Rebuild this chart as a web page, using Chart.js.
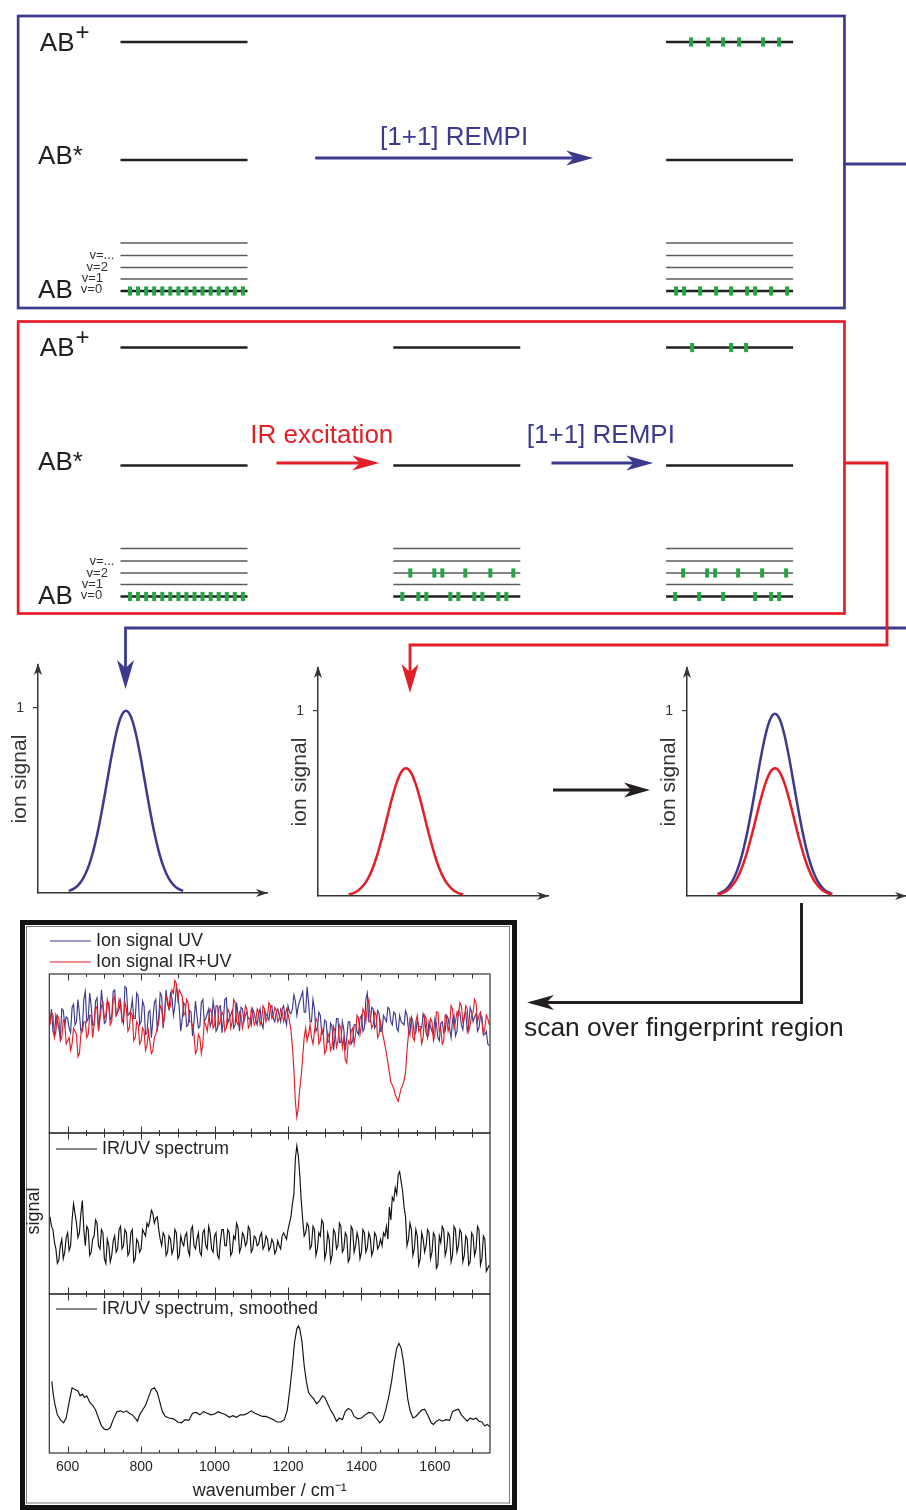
<!DOCTYPE html>
<html><head><meta charset="utf-8">
<script src="https://cdn.jsdelivr.net/npm/chart.js@4.4.1/dist/chart.umd.min.js"></script>
<style>
html,body{margin:0;padding:0;background:#fff}
body{width:906px;height:1510px;overflow:hidden;position:relative}
canvas{position:absolute;left:0;top:0}
</style></head>
<body>
<canvas id="diagram" width="906" height="1510"></canvas>
<canvas id="g1" width="906" height="1510"></canvas>
<canvas id="g2" width="906" height="1510"></canvas>
<canvas id="g3" width="906" height="1510"></canvas>
<canvas id="s1" width="906" height="1510"></canvas>
<canvas id="s2" width="906" height="1510"></canvas>
<canvas id="s3" width="906" height="1510"></canvas>
<script>
// ---------------- DATA ----------------
// energy levels (arb. units, v=0 ... v=4, AB*, AB+)
const levelNames = ['v=0','v=1','v=2','v=...','v4','AB*','AB+'];
const levelEnergy = [0, 12, 23.5, 35.5, 48, 131, 249];
// columns of the scheme (0: start, 1: after IR, 2: after UV)
const uvColumns = [0, 2];
const irUvColumns = [0, 1, 2];
// populations: positions of molecules along a level (0 = left end, 1 = right end)
const popGround = [0.075,0.138,0.202,0.265,0.329,0.392,0.456,0.519,0.583,0.646,0.710,0.773,0.837,0.900,0.964];
const popUvIon = [0.197,0.331,0.449,0.575,0.764,0.890];
const popUvGround = [0.079,0.142,0.268,0.394,0.512,0.638,0.701,0.827,0.953];
const popIrV2 = [0.134,0.323,0.386,0.567,0.764,0.945];
const popIrGround = [0.071,0.197,0.260,0.449,0.512,0.638,0.701,0.827,0.890];
const popIrUvV2 = [0.134,0.323,0.386,0.567,0.756,0.945];
const popIrUvGround = [0.071,0.260,0.449,0.701,0.827,0.890];
const popIrUvIon = [0.205,0.512,0.630];

// ion signal vs. UV wavelength (scan position)
const scanPos = [1.61,1.86,2.11,2.36,2.61,2.86,3.11,3.36,3.61,3.86,4.11,4.36,4.61,4.86,5.11,5.36,5.61,5.86,6.11,6.36,6.61,6.86,7.11,7.36,7.61];
const ionUV = [0.011,0.022,0.043,0.078,0.133,0.213,0.320,0.451,0.597,0.743,0.869,0.955,0.985,0.955,0.869,0.743,0.597,0.451,0.320,0.213,0.133,0.078,0.043,0.022,0.011];
const ionIRUV = [0.008,0.016,0.030,0.055,0.093,0.149,0.224,0.316,0.418,0.521,0.609,0.669,0.690,0.669,0.609,0.521,0.418,0.316,0.224,0.149,0.093,0.055,0.030,0.016,0.008];

// spectra: wavenumber grid start / step (cm-1); 150 samples on the grid + 150 at half steps
const wnStart = 552, wnStep = 8;
const tickLabels = [600, 800, 1000, 1200, 1400, 1600];
const ionSignalUV = [
70,64,74,66,78,68,72,63,81,70,
75,66,89,72,80,68,85,74,79,70,
82,73,90,76,83,69,91,75,84,72,
86,70,80,63,77,71,84,73,86,76,
81,88,74,92,78,72,80,68,76,70,
74,67,84,72,78,70,76,66,80,71,
85,72,77,68,74,79,70,76,72,78,
71,75,69,77,73,79,72,76,74,78,
72,80,75,87,74,83,89,76,82,70,
78,66,74,63,70,58,67,61,72,57,
65,60,70,58,68,62,74,66,88,70,
78,68,75,64,72,79,70,76,66,74,
69,77,65,73,62,71,67,75,63,70,
64,72,60,69,63,74,66,71,61,77,
68,74,64,79,70,75,66,73,62,56];
const ionSignalUVHalf = [
78,61,70,60,77,73,66,79,68,84,
64,84,70,88,68,83,65,90,69,82,
71,89,74,78,72,92,74,77,72,88,
68,83,62,76,60,82,64,88,66,90,
78,85,80,88,64,82,67,77,61,83,
66,82,70,75,67,83,64,79,63,84,
69,74,66,82,64,78,74,72,68,75,
68,78,66,75,71,80,70,78,70,80,
68,76,78,83,80,86,76,92,70,84,
64,76,62,71,57,69,52,72,57,70,
52,70,56,68,64,72,64,84,70,79,
66,77,64,74,70,78,68,75,64,70,
68,74,62,70,63,67,66,72,60,67,
62,69,58,70,64,72,60,74,64,76,
65,76,68,76,73,64,74,62,64,55];
const ionSignalIRUV = [
68,74,64,72,60,70,58,52,66,62,
50,64,70,62,74,68,78,72,82,74,
80,70,86,76,81,72,78,66,74,60,
68,58,64,55,57,52,62,70,78,74,
84,80,88,94,90,86,76,82,70,62,
52,60,56,68,72,76,68,80,70,74,
66,76,70,82,68,74,72,78,68,75,
70,76,71,78,73,80,74,77,72,76,
74,75,65,40,10,28,48,66,62,60,
64,70,58,62,52,60,55,64,58,66,
60,44,56,66,62,72,68,76,80,72,
68,74,62,64,55,44,32,28,22,24,
30,38,62,70,58,74,66,60,72,64,
70,62,76,66,58,72,68,78,70,74,
80,72,78,68,76,82,74,70,66,72];
const ionSignalIRUVHalf = [
76,60,74,58,71,56,60,56,64,48,
62,70,60,74,60,80,64,80,72,84,
68,84,74,84,70,82,64,76,58,70,
56,66,52,64,50,60,66,80,68,86,
78,90,96,84,88,74,84,70,68,50,
62,50,70,64,78,66,80,68,76,64,
78,66,84,70,76,66,80,66,78,68,
78,68,80,70,82,72,79,70,78,70,
78,70,54,20,16,36,60,58,68,56,
72,56,66,50,63,52,67,54,68,54,
46,58,64,56,74,62,78,70,84,66,
76,60,70,60,50,38,30,24,20,28,
33,52,72,60,70,64,56,74,60,72,
58,76,64,56,74,64,80,66,76,82,
70,80,64,74,84,70,76,62,74,68];
const irUvSpectrum = [
48,40,28,21,34,26,38,30,56,44,
38,58,30,40,26,36,44,28,38,19,
30,24,36,28,42,30,38,26,40,22,
32,28,38,44,46,50,47,40,30,36,
26,34,28,38,24,32,36,27,40,30,
34,26,38,30,42,28,36,24,33,40,
30,38,26,34,41,29,36,32,40,28,
35,31,38,30,34,29,32,27,30,36,
36,40,48,62,92,74,46,38,42,30,
40,28,36,44,26,34,24,38,30,42,
28,36,22,40,30,34,26,38,29,35,
27,36,30,30,36,34,46,58,62,76,
64,48,34,40,28,36,22,34,30,38,
26,36,18,32,40,28,36,24,40,30,
38,24,34,20,36,28,40,22,34,16];
const irUvSpectrumHalf = [
42,32,19,30,22,35,27,46,50,35,
50,40,42,24,34,46,30,40,22,34,
20,33,26,40,28,40,24,38,20,34,
26,40,36,42,52,44,48,34,38,24,
36,25,40,22,36,30,38,24,42,28,
38,24,40,28,38,26,38,22,40,30,
40,24,36,44,26,38,30,42,26,36,
30,36,28,36,27,34,25,33,28,38,
34,44,56,84,86,58,36,44,28,42,
24,38,46,22,38,20,40,28,44,26,
38,20,42,26,38,22,40,26,38,24,
38,28,34,38,42,54,60,66,74,70,
54,30,44,24,40,18,38,26,40,22,
38,16,36,42,24,38,20,42,26,40,
20,36,18,38,24,42,18,36,14,18];
const smoothWn = [557,560,565,572,580,589,596,604,612,620,628,634,640,646,652,660,668,676,684,692,700,708,716,724,734,744,752,760,768,776,784,790,796,804,812,820,828,836,844,850,858,866,876,888,900,910,920,930,940,950,960,970,980,990,1000,1010,1020,1030,1040,1050,1060,1070,1080,1090,1100,1110,1120,1130,1140,1150,1160,1170,1180,1190,1198,1205,1212,1218,1224,1228,1232,1238,1244,1250,1256,1262,1270,1278,1286,1294,1300,1308,1316,1324,1332,1340,1348,1356,1364,1372,1380,1390,1400,1410,1420,1430,1440,1450,1458,1466,1474,1482,1490,1496,1502,1508,1514,1520,1526,1532,1540,1548,1556,1564,1572,1580,1590,1596,1604,1612,1620,1630,1640,1648,1656,1664,1672,1680,1688,1696,1704,1712,1720,1728,1736,1742,1750];
const smoothSig = [45,38,31,24,21,19,22,32,41,40,39,36,37,35,36,32,30,27,22,17,15,14.5,16,21,26,26.5,25.5,26.5,25,24,22,20,24,27,30,35,40,41,38,33,26,23,22,21.5,19.5,19,21,20.5,25,25.5,24,26,25,24,24.5,26,25,24,22.5,23.5,22.5,24,24,25,26.5,25,24,23,23,22,21,19.5,19.5,21,27,40,55,70,78,80,78,70,55,45,38,36,34,31,33,36,35,31,27,24,20,22,21,26,28,27,23,21.5,22,24,25.5,25,22,19,21,27,35,45,58,66,69,66,58,46,34,27,22,23,25,27,27.5,24,19,18,20,21,20,21,20.5,26,27,27.5,24,22,20,22,21,22,20,19.5,17,18,16.5];

// ---------------- STYLE / LAYOUT ----------------
const BLUE = '#3C3A8F', RED = '#E41E26', INK = '#231F20', GREEN = '#27A446', GREY = '#5A5B5D';
const FONT = "'Liberation Sans', Arial, Helvetica, sans-serif";
Chart.defaults.font.family = FONT;
Chart.defaults.animation = false;
const W = 906, H = 1510, PAD = 12;
const colPx = 272.8, col0Px = 184;          // column spacing of the scheme
const halfLevel = 0.2328;                    // half length of a level in column units
const boxX = [-0.608, 2.421], boxE = [-17, 275];
const v0TopPx = 291, v0BotPx = 596.5;

function head(ctx, tx, ty, ang, len, hw, color) {
  const c = Math.cos(ang), s = Math.sin(ang);
  const bx = tx - c * len, by = ty - s * len;
  const nx = tx - c * len * 0.72, ny = ty - s * len * 0.72;
  ctx.beginPath(); ctx.moveTo(tx, ty);
  ctx.lineTo(bx - s * hw, by + c * hw); ctx.lineTo(nx, ny);
  ctx.lineTo(bx + s * hw, by - c * hw); ctx.closePath();
  ctx.fillStyle = color; ctx.fill();
}
function arrow(ctx, pts, color, w, len, hw) {
  const n = pts.length, [tx, ty] = pts[n - 1], [px, py] = pts[n - 2];
  const ang = Math.atan2(ty - py, tx - px);
  ctx.beginPath(); ctx.moveTo(pts[0][0], pts[0][1]);
  for (let i = 1; i < n - 1; i++) ctx.lineTo(pts[i][0], pts[i][1]);
  ctx.lineTo(tx - Math.cos(ang) * len * 0.6, ty - Math.sin(ang) * len * 0.6);
  ctx.strokeStyle = color; ctx.lineWidth = w; ctx.lineJoin = 'miter'; ctx.lineCap = 'butt'; ctx.stroke();
  head(ctx, tx, ty, ang, len, hw, color);
}
function line(ctx, pts, color, w) {
  ctx.beginPath(); ctx.moveTo(pts[0][0], pts[0][1]);
  for (let i = 1; i < pts.length; i++) ctx.lineTo(pts[i][0], pts[i][1]);
  ctx.strokeStyle = color; ctx.lineWidth = w; ctx.lineJoin = 'miter'; ctx.stroke();
}
function text(ctx, s, x, y, size, color, align, base) {
  ctx.font = size + 'px ' + FONT; ctx.fillStyle = color;
  ctx.textAlign = align || 'left'; ctx.textBaseline = base || 'alphabetic';
  ctx.fillText(s, x, y);
}

// ---------------- ENERGY LEVEL SCHEME ----------------
function levelSegments(cols, idxs) {
  const pts = [];
  cols.forEach(c => idxs.forEach(i => {
    pts.push({x: c - halfLevel, y: levelEnergy[i]}, {x: c + halfLevel, y: levelEnergy[i]}, {x: c + 0.3, y: null});
  }));
  return pts;
}
function pop(col, fr, lvl) {
  return fr.map(f => ({x: col - halfLevel + f * 2 * halfLevel, y: levelEnergy[lvl]}));
}
const thick = [0, 5, 6], thin = [1, 2, 3, 4];
const levelDs = (axis, cols) => [
  {data: levelSegments(cols, thin), yAxisID: axis, showLine: true, borderColor: GREY, borderWidth: 1.3, pointRadius: 0, spanGaps: false, order: 3},
  {data: levelSegments(cols, thick), yAxisID: axis, showLine: true, borderColor: INK, borderWidth: 2.7, pointRadius: 0, spanGaps: false, order: 2}
];
const popDs = (axis, pts) => ({data: pts, yAxisID: axis, showLine: false, pointStyle: 'line', pointRotation: 90, pointRadius: 4.6,
  pointBorderWidth: 4, pointBorderColor: GREEN, pointBackgroundColor: GREEN, order: 1});

const schemePlugin = {
  id: 'scheme',
  afterDraw(chart) {
    const ctx = chart.ctx, xs = chart.scales.x;
    const X = v => xs.getPixelForValue(v);
    ctx.save();
    [['yTop', BLUE], ['yBot', RED]].forEach(([id, col]) => {
      const ys = chart.scales[id], Y = v => ys.getPixelForValue(v);
      ctx.strokeStyle = col; ctx.lineWidth = 2.7;
      ctx.strokeRect(X(boxX[0]), Y(boxE[1]), X(boxX[1]) - X(boxX[0]), Y(boxE[0]) - Y(boxE[1]));
      text(ctx, 'AB', X(-0.5285), Y(240.5), 26, INK);
      text(ctx, '+', X(-0.398), Y(251.5), 24, INK);
      text(ctx, 'AB*', X(-0.535), Y(127), 26, INK);
      text(ctx, 'AB', X(-0.535), Y(-7), 26, INK);
      text(ctx, 'v=...', X(-0.255), Y(32), 13, '#333', 'right');
      text(ctx, 'v=2', X(-0.279), Y(20), 13, '#333', 'right');
      text(ctx, 'v=1', X(-0.297), Y(9), 13, '#333', 'right');
      text(ctx, 'v=0', X(-0.30), Y(-2), 13, '#333', 'right');
    });
    const yT = v => chart.scales.yTop.getPixelForValue(v), yB = v => chart.scales.yBot.getPixelForValue(v);
    arrow(ctx, [[X(0.481), yT(133)], [X(1.5), yT(133)]], BLUE, 3, 27, 7.5);
    text(ctx, '[1+1] REMPI', X(0.99), yT(146), 26, BLUE, 'center');
    arrow(ctx, [[X(0.339), yB(133.5)], [X(0.716), yB(133.5)]], RED, 3, 27, 7.5);
    text(ctx, 'IR excitation', X(0.505), yB(153.5), 26, RED, 'center');
    arrow(ctx, [[X(1.347), yB(133.5)], [X(1.72), yB(133.5)]], BLUE, 3, 27, 7.5);
    text(ctx, '[1+1] REMPI', X(1.528), yB(153.5), 26, BLUE, 'center');

    // connectors to the signal plots
    const bR = X(boxX[1]);
    line(ctx, [[bR, yT(127)], [W + 5, yT(127)]], BLUE, 2.8);
    arrow(ctx, [[W + 5, 628], [125.5, 628], [125.5, 689]], BLUE, 2.8, 29, 8.5);
    arrow(ctx, [[bR, yB(133.5)], [887, yB(133.5)], [887, 645], [410, 645], [410, 693]], RED, 2.8, 29, 8.5);
    arrow(ctx, [[553, 790], [650, 790]], INK, 3, 26, 7.5);
    arrow(ctx, [[801.5, 903], [801.5, 1002.5], [527, 1002.5]], INK, 3, 27, 7.5);
    text(ctx, 'scan over fingerprint region', 524, 1036, 26.4, INK);

    // frame of spectra
    ctx.strokeStyle = '#111'; ctx.lineWidth = 5;
    ctx.strokeRect(22.5, 922.5, 492, 585);
    ctx.strokeStyle = '#777'; ctx.lineWidth = 1;
    ctx.strokeRect(26.5, 926.5, 483, 576.5);
    ctx.restore();
  }
};

new Chart(document.getElementById('diagram'), {
  type: 'scatter',
  data: {datasets: [
    popDs('yTop', pop(0, popGround, 0)), popDs('yTop', pop(2, popUvIon, 6)), popDs('yTop', pop(2, popUvGround, 0)),
    popDs('yBot', pop(0, popGround, 0)), popDs('yBot', pop(1, popIrV2, 2)), popDs('yBot', pop(1, popIrGround, 0)),
    popDs('yBot', pop(2, popIrUvV2, 2)), popDs('yBot', pop(2, popIrUvGround, 0)), popDs('yBot', pop(2, popIrUvIon, 6)),
    ...levelDs('yTop', uvColumns), ...levelDs('yBot', irUvColumns)
  ]},
  options: {
    responsive: false, devicePixelRatio: 1, events: [],
    layout: {padding: PAD},
    plugins: {legend: {display: false}, tooltip: {enabled: false}},
    scales: {
      x: {type: 'linear', display: false, min: (PAD - col0Px) / colPx, max: (W - PAD - col0Px) / colPx},
      y: {display: false},
      yTop: {type: 'linear', display: false, min: v0TopPx - (H - PAD), max: v0TopPx - PAD},
      yBot: {type: 'linear', display: false, min: v0BotPx - (H - PAD), max: v0BotPx - PAD}
    }
  },
  plugins: [schemePlugin]
});

// ---------------- ION SIGNAL PLOTS ----------------
const yPerUnit = 185, yMaxSig = 1.232, xPerUnit = 19.08;
const gaussPlots = [
  {id: 'g1', axisX: 38, axisY: 893, right: 267, series: [[ionUV, BLUE]]},
  {id: 'g2', axisX: 318, axisY: 896, right: 548, series: [[ionIRUV, RED]]},
  {id: 'g3', axisX: 687, axisY: 896, right: 906, series: [[ionUV, BLUE], [ionIRUV, RED]]}
];
const axisArrows = {
  id: 'axisArrows',
  afterDraw(chart) {
    const {ctx, chartArea: a} = chart;
    ctx.save();
    head(ctx, a.left, a.top - 2, -Math.PI / 2, 12, 4, '#333');
    head(ctx, a.right + 1, a.bottom, 0, 12, 4, '#333');
    ctx.restore();
  }
};
gaussPlots.forEach(g => {
  const yW = 30;
  new Chart(document.getElementById(g.id), {
    type: 'scatter',
    data: {datasets: g.series.map(([vals, col], i) => ({
      data: vals.map((v, k) => ({x: scanPos[k], y: v})), showLine: true, borderColor: col, borderWidth: 2.5,
      pointRadius: 0, cubicInterpolationMode: 'monotone', order: i === 0 ? 2 : 1
    }))},
    options: {
      responsive: false, devicePixelRatio: 1, events: [],
      layout: {padding: {left: g.axisX - yW, top: g.axisY - yMaxSig * yPerUnit, right: W - g.right, bottom: H - g.axisY}},
      plugins: {legend: {display: false}, tooltip: {enabled: false}},
      scales: {
        x: {type: 'linear', min: 0, max: (g.right - g.axisX) / xPerUnit, display: true,
            ticks: {display: false}, grid: {display: false, drawTicks: false},
            border: {display: true, color: '#333', width: 1.5},
            afterFit: s => { s.height = 0; }},
        y: {type: 'linear', min: 0, max: yMaxSig, display: true,
            afterBuildTicks: s => { s.ticks = [{value: 1}]; },
            ticks: {font: {size: 14}, color: '#333', padding: 9},
            grid: {display: true, drawOnChartArea: false, drawTicks: true, tickLength: 5, color: '#333', lineWidth: 1.2},
            border: {display: true, color: '#333', width: 1.5},
            title: {display: true, text: 'ion signal', font: {size: 21}, color: '#333', padding: 0},
            afterFit: s => { s.width = yW; }}
      }
    },
    plugins: [axisArrows]
  });
});

// ---------------- SPECTRA ----------------
const grid = (main, half) => {
  const pts = [];
  main.forEach((v, k) => {
    pts.push({x: wnStart + k * wnStep, y: v});
    pts.push({x: wnStart + (k + 0.5) * wnStep, y: half[k]});
  });
  return pts;
};
const panels = [
  {id: 's1', top: 974, bottom: 1133, series: [[grid(ionSignalIRUV, ionSignalIRUVHalf), RED], [grid(ionSignalUV, ionSignalUVHalf), BLUE]],
   legend: [[50, 91, 96, 941, BLUE, 'Ion signal UV'], [50, 91, 96, 962, RED, 'Ion signal IR+UV']]},
  {id: 's2', top: 1133, bottom: 1294, series: [[grid(irUvSpectrum, irUvSpectrumHalf), '#111']],
   legend: [[56, 97, 102, 1149, '#111', 'IR/UV spectrum']], ylabel: true},
  {id: 's3', top: 1294, bottom: 1453, series: [[smoothWn.map((w, k) => ({x: w, y: smoothSig[k]})), '#111']],
   legend: [[56, 97, 102, 1309, '#111', 'IR/UV spectrum, smoothed']], xaxis: true}
];
panels.forEach(p => {
  const deco = {
    id: 'deco',
    afterDraw(chart) {
      const {ctx, chartArea: a, scales: {x}} = chart;
      ctx.save();
      ctx.strokeStyle = '#333'; ctx.lineWidth = 1.2;
      ctx.strokeRect(a.left, a.top, a.right - a.left, a.bottom - a.top);
      ctx.beginPath();
      for (let v = 600; v <= 1700; v += 50) {
        const px = Math.round(x.getPixelForValue(v)) + 0.5;
        const len = v % 200 === 0 ? 6.5 : (v % 100 === 0 ? 4.5 : 3);
        ctx.moveTo(px, a.bottom); ctx.lineTo(px, a.bottom - len);
        ctx.moveTo(px, a.top); ctx.lineTo(px, a.top + len);
      }
      ctx.lineWidth = 1; ctx.stroke();
      p.legend.forEach(([x0, x1, tx, y, col, s]) => {
        line(ctx, [[x0, y], [x1, y]], col, 1.2);
        text(ctx, s, tx, y, 18, INK, 'left', 'middle');
      });
      if (p.ylabel) {
        ctx.translate(34, 1211); ctx.rotate(-Math.PI / 2);
        text(ctx, 'signal', 0, 0, 18, INK, 'center', 'middle');
      }
      ctx.restore();
    }
  };
  const xAxisH = 49;
  new Chart(document.getElementById(p.id), {
    type: 'scatter',
    data: {datasets: p.series.map(([d, col]) => ({data: d, showLine: true, borderColor: col, borderWidth: 1.15, pointRadius: 0, tension: 0}))},
    options: {
      responsive: false, devicePixelRatio: 1, events: [],
      layout: {padding: {left: 49.3, right: W - 490, top: p.top, bottom: p.xaxis ? H - p.bottom - xAxisH : H - p.bottom}},
      plugins: {legend: {display: false}, tooltip: {enabled: false}},
      scales: {
        x: p.xaxis ? {type: 'linear', min: 550, max: 1750, display: true,
            afterBuildTicks: s => { s.ticks = tickLabels.map(v => ({value: v})); },
            ticks: {font: {size: 14}, color: INK, padding: 6, autoSkip: false, maxRotation: 0, callback: v => String(v)},
            grid: {display: false, drawTicks: false}, border: {display: false},
            title: {display: true, text: 'wavenumber / cm⁻¹', font: {size: 18}, color: INK, padding: 0},
            afterFit: s => { s.height = xAxisH; }}
          : {type: 'linear', min: 550, max: 1750, display: false},
        y: {type: 'linear', min: 0, max: 100, display: false}
      }
    },
    plugins: [deco]
  });
});
</script>
</body></html>
